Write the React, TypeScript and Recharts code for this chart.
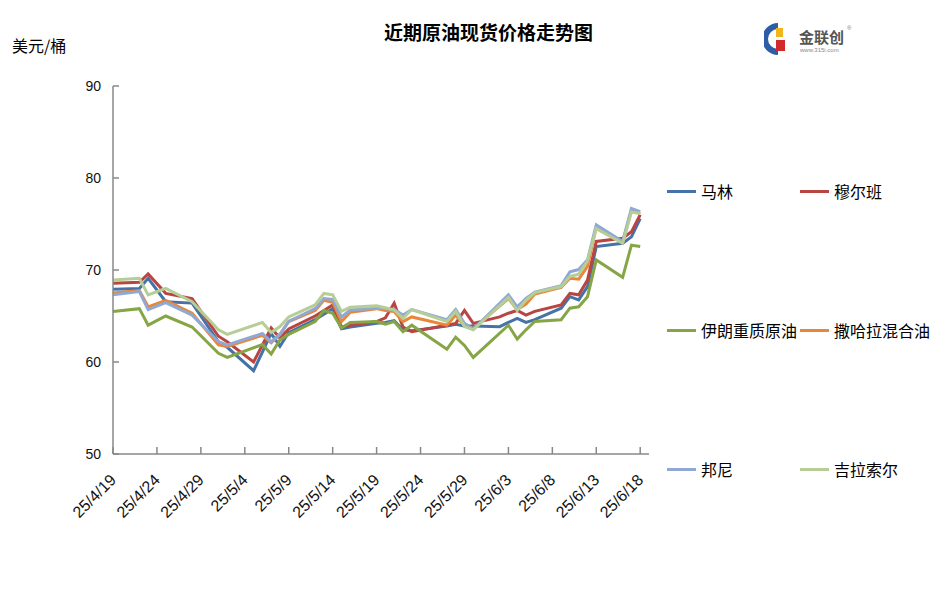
import React from "react";
import { LineChart, Line, XAxis, YAxis } from "recharts";

// dates of the price points (2025), "month/day"
const dates = [
  "4/19", "4/22", "4/23", "4/25", "4/28", "5/1", "5/2", "5/5", "5/6", "5/7",
  "5/8", "5/9", "5/12", "5/13", "5/14", "5/15", "5/16", "5/19", "5/20", "5/21",
  "5/22", "5/23", "5/27", "5/28", "5/29", "5/30", "6/2", "6/3", "6/4", "6/5",
  "6/6", "6/9", "6/10", "6/11", "6/12", "6/13", "6/16", "6/17", "6/18",
];

const malin = [
  67.9, 68.0, 69.1, 66.55, 66.4, 62.2, 61.6, 59.05, null, 63.1,
  61.7, 63.2, 64.6, 65.2, 65.8, 63.6, 63.8, 64.2, 64.3, 64.5,
  63.5, 63.4, 63.9, 64.1, 63.9, 63.9, 63.84, 64.3, 64.75, 64.3,
  64.6, 65.85, 67.1, 66.75, 68.2, 72.55, 72.9, 73.6, 75.6,
];
const murban = [
  68.55, 68.66, 69.57, 67.46, 66.9, 62.8, 62.2, 60.0, null, 63.7,
  62.6, 63.6, 65.0, 65.6, 66.2, 63.8, 64.0, 64.4, 64.8, 66.4,
  63.8, 63.3, 64.0, 64.2, 65.6, 64.2, 64.9, 65.3, 65.6, 65.1,
  65.5, 66.2, 67.45, 67.3, 68.9, 73.1, 73.45, 74.15, 76.0,
];
const iranHeavy = [
  65.5, 65.8, 64.0, 65.0, 63.8, 60.95, 60.5, null, 61.9, 60.87,
  62.4, 63.0, 64.4, 65.6, 65.3, 63.7, 64.3, 64.4, 64.1, 64.4,
  63.3, 64.0, 61.4, 62.7, 61.8, 60.5, null, 64.0, 62.5, 63.5,
  64.4, 64.6, 65.85, 66.0, 67.1, 71.1, 69.2, 72.7, 72.55,
];
const saharan = [
  67.5, 67.75, 66.0, 66.7, 65.3, 61.85, 61.7, null, 62.9, 62.1,
  63.0, 64.4, 65.6, 66.7, 66.5, 64.4, 65.4, 65.8, 65.6, 65.5,
  64.4, 64.9, 64.0, 65.1, 63.9, 63.65, null, 66.9, 65.7, 66.3,
  67.4, 68.1, 69.1, 69.0, 70.4, 74.7, 73.0, 76.5, 76.1,
];
const bonny = [
  67.3, 67.65, 65.7, 66.45, 65.1, 62.2, 61.85, null, 63.1, 62.2,
  63.0, 64.4, 65.8, 66.9, 66.8, 64.9, 65.65, 65.85, 65.8, 65.7,
  65.1, 65.7, 64.6, 65.7, 64.2, 63.55, null, 67.3, 66.0, 66.9,
  67.6, 68.3, 69.8, 70.05, 71.1, 74.9, 73.1, 76.7, 76.35,
];
const girassol = [
  68.9, 69.1, 67.3, 68.0, 66.55, 63.5, 63.0, null, 64.3, 63.2,
  63.85, 64.9, 66.2, 67.45, 67.3, 65.5, 65.95, 66.1, 65.9, 65.65,
  64.75, 65.7, 64.4, 65.5, 63.85, 63.5, null, 67.0, 65.6, 66.7,
  67.55, 68.2, 69.3, 69.55, 71.0, 74.5, 72.9, 76.3, 76.15,
];

const tickLabels = [
  "25/4/19", "25/4/24", "25/4/29", "25/5/4", "25/5/9", "25/5/14", "25/5/19",
  "25/5/24", "25/5/29", "25/6/3", "25/6/8", "25/6/13", "25/6/18",
];
const yTicks = [50, 60, 70, 80, 90];

const series = [
  { key: "malin", name: "马林", color: "#4572A7", values: malin },
  { key: "murban", name: "穆尔班", color: "#B94543", values: murban },
  { key: "iran", name: "伊朗重质原油", color: "#86A646", values: iranHeavy },
  { key: "saharan", name: "撒哈拉混合油", color: "#E8873A", values: saharan },
  { key: "bonny", name: "邦尼", color: "#90A9D4", values: bonny },
  { key: "girassol", name: "吉拉索尔", color: "#B6CE96", values: girassol },
];

const BASE = Date.UTC(2025, 3, 19);
const dayOf = (md: string) => {
  const [m, d] = md.split("/").map(Number);
  return Math.round((Date.UTC(2025, m - 1, d) - BASE) / 86400000);
};

const rows = dates.map((d, i) => {
  const r: any = { day: dayOf(d) };
  series.forEach((s) => (r[s.key] = s.values[i]));
  return r;
});
const xTicks = tickLabels.map((t) => dayOf(t.slice(3)));
const labelOf: Record<number, string> = {};
tickLabels.forEach((t, i) => (labelOf[xTicks[i]] = t));

const NUM_FONT = "'Liberation Sans', Arial, sans-serif";
const CJK_FONT = "'Noto Sans CJK SC', 'Noto Sans', sans-serif";

const DateTick = (props: any) => {
  const { x, y, payload } = props;
  const ax = x + 4;
  const ay = y + 27;
  return (
    <text
      x={ax}
      y={ay}
      transform={`rotate(-45, ${ax}, ${ay})`}
      textAnchor="end"
      fontSize={16}
      fontFamily={NUM_FONT}
      fill="#111"
    >
      {labelOf[payload.value]}
    </text>
  );
};

const legendPos = [
  { left: 667, top: 191 },
  { left: 800, top: 191 },
  { left: 667, top: 330 },
  { left: 800, top: 330 },
  { left: 667, top: 469 },
  { left: 800, top: 469 },
];

function Logo() {
  return (
    <svg
      width={100}
      height={36}
      style={{ position: "absolute", left: 764, top: 20 }}
    >
      <path d="M14 6 A12 12 0 1 0 14 32" stroke="#2E5DA8" strokeWidth={6} fill="none" />
      <rect x={12} y={8} width={7} height={9} fill="#F2B51C" />
      <rect x={12} y={20} width={9} height={11} fill="#D22A2A" />
      <text x={35} y={23} fontSize={15} fontWeight={700} fill="#555" fontFamily={CJK_FONT}>
        金联创
      </text>
      <text x={83} y={10} fontSize={6} fill="#777" fontFamily={NUM_FONT}>
        ®
      </text>
      <text x={36} y={32} fontSize={6} fill="#888" fontFamily={NUM_FONT}>
        www.315i.com
      </text>
    </svg>
  );
}

export default function App() {
  return (
    <div
      style={{
        position: "absolute",
        left: 0,
        top: 0,
        width: 937,
        height: 601,
        background: "#fff",
      }}
    >
      <div
        style={{
          position: "absolute",
          left: 0,
          width: 977,
          top: 18,
          textAlign: "center",
          fontFamily: CJK_FONT,
          fontWeight: 700,
          fontSize: 19,
          color: "#000",
        }}
      >
        近期原油现货价格走势图
      </div>
      <div
        style={{
          position: "absolute",
          left: 12,
          top: 33,
          fontFamily: CJK_FONT,
          fontSize: 16,
          color: "#000",
        }}
      >
        美元/桶
      </div>
      <Logo />
      <LineChart
        width={937}
        height={601}
        data={rows}
        margin={{ top: 86, right: 288, bottom: 87, left: 53 }}
      >
        <XAxis
          dataKey="day"
          type="number"
          domain={[0, 61]}
          ticks={xTicks}
          interval={0}
          height={60}
          stroke="#888"
          strokeWidth={1.5}
          tickSize={-7}
          tickMargin={7}
          tick={<DateTick />}
        />
        <YAxis
          type="number"
          domain={[50, 90]}
          ticks={yTicks}
          width={60}
          stroke="#888"
          strokeWidth={1.5}
          tickSize={-6}
          tickMargin={18}
          tick={{ fontSize: 14, fill: "#111", fontFamily: NUM_FONT }}
        />
        {series.map((s) => (
          <Line
            key={s.key}
            type="linear"
            dataKey={s.key}
            name={s.name}
            stroke={s.color}
            strokeWidth={3}
            dot={false}
            activeDot={false}
            connectNulls
            isAnimationActive={false}
          />
        ))}
      </LineChart>
      {series.map((s, i) => (
        <div
          key={s.key}
          style={{
            position: "absolute",
            left: legendPos[i].left,
            top: legendPos[i].top - 11,
            height: 22,
            display: "flex",
            alignItems: "center",
            fontFamily: CJK_FONT,
            fontSize: 16,
            color: "#000",
            whiteSpace: "nowrap",
          }}
        >
          <span
            style={{
              display: "inline-block",
              width: 29,
              height: 3,
              background: s.color,
              marginRight: 5,
            }}
          />
          {s.name}
        </div>
      ))}
    </div>
  );
}
